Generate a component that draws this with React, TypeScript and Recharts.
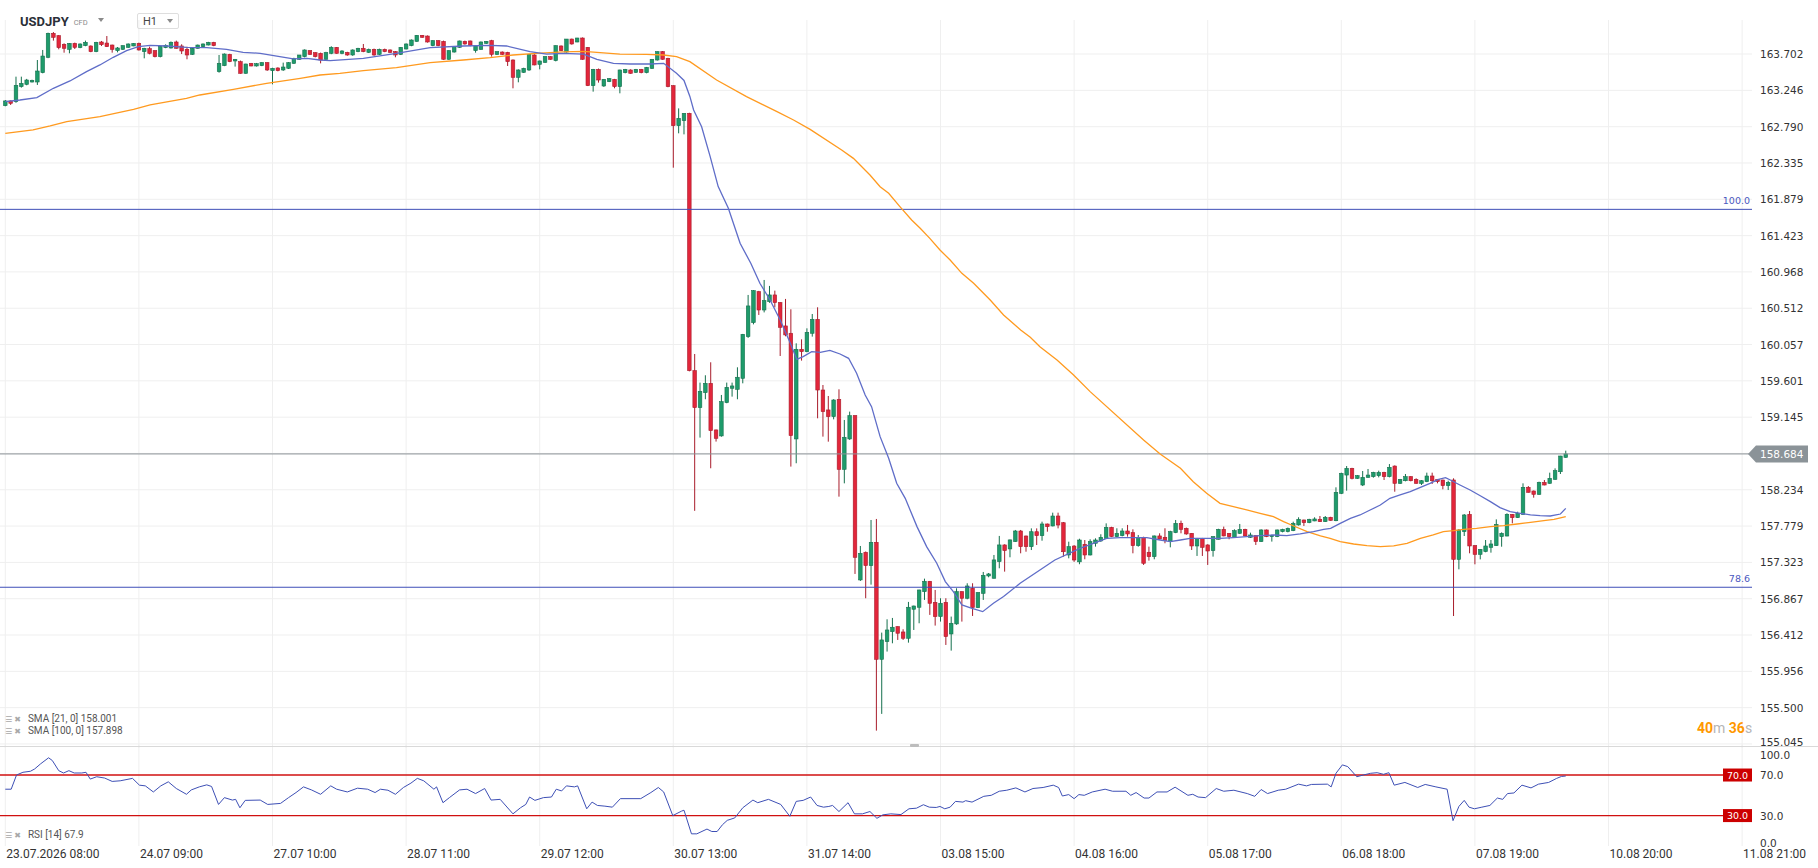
import React from 'react';
import { ComposedChart, Bar, Line, XAxis, YAxis, ReferenceLine, CartesianGrid } from 'recharts';

// ---- hourly candles (index 0 = 23.07.2026 08:00) ----
const opens = [
163.054,163.113,163.104,163.293,163.322,163.351,163.351,163.468,163.661,163.962,
163.932,163.824,163.761,163.836,163.782,163.807,163.803,163.732,163.853,163.840,
163.815,163.744,163.761,163.786,163.803,163.836,163.732,163.769,163.744,163.669,
163.782,163.778,163.853,163.803,163.761,163.698,163.774,163.794,163.815,163.849,
163.481,163.556,163.698,163.615,163.606,163.460,163.585,163.552,163.556,163.594,
163.493,163.527,163.502,163.523,163.585,163.636,163.669,163.744,163.719,163.711,
163.636,163.711,163.786,163.711,163.723,163.690,163.732,163.774,163.723,163.761,
163.698,163.761,163.753,163.732,163.698,163.765,163.807,163.861,163.937,163.928,
163.807,163.870,163.861,163.636,163.727,163.786,163.861,163.866,163.744,163.761,
163.836,163.870,163.698,163.727,163.723,163.627,163.410,163.472,163.502,163.690,
163.573,163.598,163.669,163.619,163.803,163.727,163.890,163.853,163.903,163.786,
163.305,163.510,163.301,163.355,163.385,163.293,163.468,163.502,163.472,163.510,
163.468,163.523,163.627,163.732,163.648,163.305,162.803,162.866,162.958,159.729,
159.265,159.453,159.570,158.985,158.910,159.328,159.508,159.495,159.633,160.156,
160.332,160.720,160.490,160.595,160.679,160.583,160.290,160.198,158.872,159.997,
159.967,160.198,160.373,159.486,159.236,159.152,159.369,158.491,158.872,159.164,
157.103,157.450,157.283,157.575,156.107,156.329,156.454,156.517,156.450,156.371,
156.735,156.760,156.956,157.086,156.822,156.643,156.822,156.425,156.551,156.956,
156.873,156.998,156.756,156.935,157.153,157.124,157.333,157.542,157.492,157.584,
157.717,157.654,157.520,157.708,157.658,157.805,157.780,157.905,157.821,157.416,
157.528,157.330,157.550,157.416,157.563,157.592,157.625,157.763,157.646,157.659,
157.717,157.696,157.533,157.638,157.450,157.395,157.655,157.638,157.584,157.696,
157.813,157.751,157.688,157.529,157.625,157.542,157.471,157.613,157.738,157.688,
157.638,157.688,157.738,157.638,157.659,157.584,157.730,157.646,157.646,157.709,
157.709,157.721,157.793,157.855,157.822,157.843,157.864,157.834,157.889,157.846,
158.189,158.419,158.503,158.378,158.294,158.390,158.399,158.411,158.453,158.399,
158.532,158.315,158.348,158.399,158.365,158.315,158.336,158.407,158.365,158.357,
158.286,158.357,157.361,157.709,157.926,157.533,157.424,157.458,157.512,157.533,
157.646,157.654,157.926,157.884,157.926,158.265,158.219,158.177,158.327,158.315,
158.365,158.461,158.641,
];
const highs = [
163.125,163.120,163.418,163.418,163.390,163.380,163.627,163.753,163.970,163.978,
163.940,163.836,163.840,163.845,163.835,163.870,163.810,163.855,163.866,163.928,
163.820,163.790,163.810,163.835,163.840,163.845,163.780,163.794,163.750,163.805,
163.824,163.860,163.870,163.824,163.794,163.780,163.820,163.835,163.855,163.855,
163.690,163.710,163.705,163.640,163.620,163.580,163.590,163.590,163.600,163.600,
163.530,163.535,163.594,163.600,163.655,163.690,163.760,163.750,163.725,163.720,
163.730,163.800,163.790,163.750,163.730,163.760,163.780,163.828,163.770,163.770,
163.770,163.770,163.760,163.740,163.790,163.835,163.885,163.940,163.940,163.935,
163.875,163.875,163.870,163.750,163.800,163.870,163.870,163.870,163.810,163.860,
163.865,163.880,163.735,163.735,163.730,163.635,163.510,163.530,163.700,163.700,
163.620,163.675,163.675,163.810,163.810,163.890,163.895,163.905,163.910,163.790,
163.515,163.520,163.385,163.400,163.390,163.505,163.515,163.510,163.515,163.515,
163.540,163.640,163.735,163.740,163.655,163.310,163.020,162.960,162.965,159.938,
159.579,159.671,159.834,158.990,159.424,159.579,159.579,159.771,160.190,160.679,
160.740,160.730,160.867,160.792,160.733,160.590,160.629,160.499,160.072,160.122,
160.260,160.440,160.524,159.549,159.411,159.370,159.495,159.110,159.215,159.170,
157.529,157.460,157.855,157.868,156.442,156.609,156.626,156.520,156.484,156.827,
156.780,156.980,157.119,157.090,156.977,156.873,156.873,156.643,156.998,156.960,
157.061,157.061,156.950,157.203,157.190,157.416,157.655,157.550,157.610,157.730,
157.730,157.660,157.750,157.750,157.834,157.810,157.947,157.947,157.830,157.583,
157.540,157.620,157.604,157.613,157.625,157.676,157.813,157.770,157.751,157.751,
157.793,157.738,157.667,157.645,157.521,157.660,157.688,157.751,157.720,157.855,
157.847,157.760,157.690,157.630,157.630,157.550,157.650,157.745,157.772,157.690,
157.738,157.805,157.745,157.696,157.665,157.738,157.735,157.670,157.735,157.745,
157.760,157.834,157.889,157.860,157.870,157.889,157.905,157.905,157.895,158.265,
158.449,158.532,158.510,158.420,158.470,158.495,158.460,158.474,158.460,158.557,
158.540,158.370,158.432,158.405,158.378,158.355,158.449,158.449,158.370,158.360,
158.348,158.378,157.742,157.930,157.968,157.540,157.490,157.604,157.604,157.863,
157.700,157.939,157.930,157.959,158.315,158.281,158.225,158.336,158.357,158.449,
158.503,158.660,158.725,
];
const lows = [
163.046,163.063,163.090,163.280,163.310,163.345,163.314,163.460,163.650,163.870,
163.761,163.719,163.711,163.765,163.775,163.800,163.725,163.725,163.803,163.790,
163.719,163.723,163.755,163.780,163.800,163.745,163.648,163.698,163.660,163.660,
163.775,163.770,163.770,163.702,163.636,163.690,163.770,163.790,163.810,163.800,
163.468,163.550,163.600,163.544,163.455,163.455,163.548,163.545,163.550,163.490,
163.322,163.485,163.490,163.515,163.580,163.630,163.660,163.690,163.660,163.585,
163.630,163.700,163.705,163.700,163.680,163.680,163.725,163.725,163.715,163.680,
163.690,163.725,163.715,163.661,163.690,163.760,163.800,163.855,163.905,163.845,
163.800,163.800,163.630,163.630,163.720,163.780,163.820,163.800,163.719,163.755,
163.830,163.669,163.690,163.690,163.552,163.272,163.347,163.465,163.490,163.560,
163.510,163.590,163.630,163.610,163.740,163.720,163.820,163.850,163.630,163.300,
163.230,163.343,163.290,163.350,163.272,163.209,163.460,163.455,163.465,163.460,
163.460,163.515,163.620,163.630,163.285,162.276,162.707,162.694,159.720,157.970,
158.889,159.370,158.504,158.839,158.900,159.320,159.403,159.370,159.570,160.140,
160.310,160.428,160.460,160.580,160.524,159.913,160.160,158.525,158.567,159.855,
159.960,160.156,159.131,158.901,158.838,159.118,158.148,158.315,158.860,157.178,
157.090,156.873,157.044,155.212,155.422,156.204,156.308,156.350,156.350,156.316,
156.475,156.559,156.852,156.664,156.530,156.580,156.287,156.216,156.540,156.580,
156.860,156.651,156.750,156.852,157.136,157.120,157.249,157.207,157.387,157.580,
157.437,157.457,157.478,157.541,157.595,157.708,157.775,157.750,157.395,157.374,
157.330,157.300,157.362,157.410,157.521,157.580,157.620,157.640,157.640,157.650,
157.646,157.437,157.520,157.291,157.345,157.362,157.610,157.563,157.512,157.690,
157.688,157.670,157.479,157.404,157.404,157.291,157.395,157.610,157.650,157.613,
157.630,157.680,157.650,157.630,157.542,157.580,157.640,157.584,157.640,157.700,
157.700,157.715,157.785,157.780,157.815,157.840,157.830,157.830,157.846,157.840,
158.180,158.223,158.365,158.370,158.281,158.385,158.386,158.390,158.357,158.390,
158.210,158.307,158.340,158.340,158.310,158.294,158.330,158.307,158.315,158.240,
158.231,156.650,157.236,157.654,157.437,157.299,157.361,157.450,157.445,157.530,
157.520,157.650,157.813,157.880,157.920,158.200,158.135,158.170,158.290,158.310,
158.360,158.432,158.635,
];
const closes = [
163.113,163.084,163.309,163.334,163.376,163.372,163.489,163.677,163.962,163.912,
163.782,163.774,163.836,163.786,163.828,163.849,163.732,163.849,163.820,163.794,
163.761,163.778,163.807,163.828,163.836,163.753,163.774,163.711,163.669,163.799,
163.811,163.849,163.774,163.740,163.690,163.774,163.815,163.828,163.849,163.807,
163.585,163.702,163.606,163.636,163.460,163.577,163.552,163.581,163.594,163.502,
163.523,163.493,163.539,163.594,163.648,163.690,163.753,163.698,163.669,163.627,
163.719,163.786,163.711,163.740,163.690,163.753,163.774,163.732,163.761,163.690,
163.761,163.732,163.723,163.690,163.786,163.828,163.878,163.937,163.912,163.853,
163.870,163.807,163.636,163.744,163.794,163.866,163.828,163.807,163.803,163.853,
163.861,163.698,163.732,163.698,163.606,163.410,163.502,163.523,163.698,163.565,
163.615,163.669,163.636,163.807,163.744,163.890,163.828,163.903,163.636,163.305,
163.510,163.376,163.385,163.393,163.293,163.502,163.510,163.460,163.510,163.468,
163.535,163.636,163.732,163.636,163.293,162.803,162.895,162.958,159.729,159.265,
159.470,159.570,158.976,158.880,159.340,159.520,159.537,159.646,160.185,160.541,
160.733,160.490,160.608,160.679,160.583,160.273,160.177,158.914,159.997,159.967,
160.210,160.373,159.486,159.215,159.152,159.361,158.491,158.893,159.164,157.387,
157.437,157.283,157.575,156.107,156.350,156.475,156.509,156.434,156.371,156.760,
156.776,156.977,157.086,156.810,156.643,156.810,156.392,156.559,156.956,156.873,
157.027,156.756,156.944,157.161,157.178,157.354,157.542,157.471,157.605,157.717,
157.520,157.520,157.708,157.658,157.805,157.771,157.905,157.792,157.457,157.520,
157.353,157.604,157.416,157.584,157.604,157.638,157.763,157.646,157.688,157.717,
157.680,157.533,157.638,157.312,157.395,157.655,157.617,157.596,157.709,157.813,
157.738,157.680,157.529,157.625,157.512,157.466,157.646,157.738,157.655,157.646,
157.721,157.738,157.655,157.667,157.584,157.730,157.646,157.663,157.730,157.738,
157.751,157.813,157.864,157.822,157.864,157.868,157.834,157.889,157.850,158.202,
158.440,158.503,158.378,158.411,158.390,158.419,158.453,158.453,158.399,158.516,
158.315,158.365,158.399,158.348,158.315,158.348,158.407,158.348,158.336,158.286,
158.327,157.361,157.729,157.918,157.529,157.424,157.487,157.529,157.554,157.800,
157.688,157.926,157.884,157.939,158.265,158.202,158.177,158.327,158.294,158.378,
158.474,158.658,158.684,
];

// ---- moving averages: [candle index, value] ----
const sma21Points = [
[0,163.104],[2.75,163.125],[5.9,163.155],[9,163.272],[12.1,163.364],[15.2,163.481],[17.7,163.565],[20.2,163.661],
[22.7,163.744],[24.9,163.794],[27.1,163.811],[30.2,163.803],[33.9,163.786],[37.7,163.782],[41.4,163.761],[44.5,163.723],
[47.7,163.711],[50.8,163.677],[53.9,163.640],[56.4,163.648],[58.9,163.627],[60.8,163.619],[67,163.648],[73.2,163.711],
[79.5,163.782],[85.7,163.803],[90.7,163.811],[93.8,163.803],[98.2,163.732],[101.3,163.702],[104.4,163.711],[108.2,163.702],
[110.7,163.636],[113.8,163.585],[116.9,163.577],[120.6,163.577],[123.2,163.585],[125.6,163.46],[127,163.37],[128.1,163.17],
[128.8,163.0],[130.3,162.79],[131.9,162.414],[133.4,162.038],[135.3,161.766],[137.5,161.327],[139.5,161.076],[141.2,160.825],
[143.1,160.616],[145,160.365],[146.9,160.072],[148.1,159.871],[149.3,159.905],[150.9,159.967],[152.5,159.959],[154.3,159.984],
[156.2,159.938],[157.8,159.884],[159.3,159.696],[160.9,159.424],[162.1,159.277],[163.7,158.901],[165.3,158.629],[166.8,158.316],
[168.4,158.127],[170.6,157.772],[172.4,157.521],[174.3,157.312],[175.9,157.082],[177.4,156.956],[179,156.789],[180.9,156.747],
[182.9,156.705],[184.9,156.81],[186.8,156.894],[189.9,157.061],[196.4,157.353],[201.1,157.5],[203.6,157.563],[206.1,157.625],
[208.6,157.634],[211.1,157.634],[213.6,157.634],[216.1,157.604],[218,157.584],[219.9,157.604],[221.7,157.625],[224.2,157.625],
[227.3,157.625],[229.8,157.634],[232.3,157.646],[234.8,157.659],[237.3,157.667],[239.8,157.659],[242.3,157.68],[244.8,157.709],
[246.7,157.738],[248,157.751],[249.8,157.813],[251.7,157.876],[253.5,157.918],[255.4,157.98],[257.3,158.043],[259.1,158.127],
[261,158.169],[262.9,158.21],[264.8,158.265],[266.6,158.315],[268.2,158.365],[269.5,158.386],[270.4,158.357],[272.2,158.294],
[274.1,158.231],[276,158.16],[277.9,158.085],[279.7,158.01],[281.6,157.959],[283.5,157.939],[285.4,157.918],[287.2,157.909],
[289.1,157.905],[291,157.93],[292,158.001],
];
const sma100Points = [
[0,162.707],[5.2,162.749],[8.4,162.799],[11.5,162.854],[17.7,162.916],[24,163.008],[27.1,163.063],[33.9,163.146],
[36.4,163.188],[42.7,163.259],[48.9,163.334],[55.2,163.397],[58.9,163.439],[62.6,163.46],[67,163.493],[73.2,163.531],
[79.5,163.594],[85.7,163.627],[90.7,163.656],[95,163.69],[99.4,163.711],[104.4,163.728],[108.2,163.736],[110.7,163.723],
[115,163.702],[120,163.698],[123.2,163.69],[125.6,163.669],[128.1,163.606],[133.1,163.376],[138.7,163.167],[144.4,162.979],
[147.5,162.874],[150.6,162.757],[156.5,162.498],[158.7,162.393],[161.8,162.184],[163.7,162.037],[165.3,161.954],[167.4,161.787],
[169.6,161.619],[171.2,161.515],[173,161.389],[174.9,161.243],[176.8,161.117],[179,160.95],[181.2,160.825],[184.3,160.616],
[186.8,160.427],[190,160.239],[191.8,160.147],[193.6,160.03],[196.8,159.863],[199.9,159.675],[203,159.466],[213,158.859],
[216.1,158.683],[219.9,158.504],[222.3,158.336],[224.8,158.19],[227.3,158.064],[229.8,158.023],[232.3,157.981],[234.8,157.939],
[237.3,157.897],[239.2,157.834],[241.1,157.78],[243.6,157.709],[246.1,157.655],[247.9,157.625],[249.8,157.583],[252.3,157.554],
[254.8,157.533],[257.3,157.52],[259.8,157.529],[262.3,157.562],[264.8,157.625],[267.2,157.667],[269.1,157.709],[271,157.721],
[272.9,157.738],[275.3,157.75],[277.9,157.771],[280.4,157.784],[282.9,157.805],[285.4,157.826],[287.9,157.846],[289.8,157.863],
[292,157.898],
];

// ---- RSI(14): [candle index, value] ----
const rsiPoints = [
[0,56],[1.1,56],[2.1,70],[3.3,72.7],[4.7,73.7],[5.5,76],[6.6,81],[8.1,87],[8.8,84.3],[10,74.3],[10.9,72],[11.9,74.3],
[12.9,72],[14.3,72],[15.1,72.7],[15.9,66],[17.1,68.3],[18.6,67],[20,63.7],[21.5,64.3],[23.8,66.7],[25.1,60],[26.2,59.3],
[27.7,53.3],[29.1,59.3],[30.5,63.3],[32,56.7],[33.9,51],[34.8,55.3],[36.3,58.3],[37.7,60.3],[38.6,58.7],[39.9,41],[41,47.7],
[42.5,45.3],[43.1,46],[43.9,37.7],[44.9,45],[47.7,45.3],[49.1,41],[51.5,42],[53,47.7],[54.4,52.7],[55.8,58.3],[57.3,55.3],
[59,51],[60.9,59.3],[62,56],[64,53.3],[65.9,57],[67.8,56],[69.2,52.7],[70.2,56],[71.6,55],[73,51],[74.5,57.7],[75.9,62],
[77.1,66.7],[78.3,64.3],[80.2,56],[80.7,58.3],[81.9,42.7],[83.1,47.7],[85,55.3],[86.4,56],[88,51.7],[89.7,56.7],[90.9,45.3],
[92.6,46],[95,31.7],[96.4,37.7],[97.4,41],[98.1,48.3],[99.1,45],[100.7,47.7],[102.2,48.3],[103.1,56],[104.1,54.3],[105,59.3],
[106.5,58.3],[107.1,59.3],[108.8,36.7],[109.8,43.3],[110.8,40],[112.2,39.3],[113.6,38.3],[115.1,46.7],[118.9,46.7],[120.8,52.7],
[122.2,57.7],[123.2,53.3],[124.9,30],[126.5,34.3],[127,35.3],[128.4,12],[129.4,12],[131.3,16.7],[132.2,14.3],[133.2,14.3],
[134.2,21],[135.1,25.3],[136.5,27.7],[138,37.7],[139.9,45.3],[140.8,42.7],[142.8,46],[145.1,41],[146.8,29.3],[148,44],
[149.3,45],[150.7,48.3],[151.9,40],[153.1,38.3],[154.1,39],[154.8,40],[156,34],[157.7,42.7],[158.9,31.7],[160.4,31.7],
[161.8,34],[163.1,27.3],[164.2,30.7],[165.7,31.7],[167.6,31],[169.1,36.7],[170.5,37.3],[171.8,40.7],[172.9,38.3],[174.2,38],
[174.9,39],[175.8,36.7],[176.8,38.3],[177.8,44],[179.2,43.3],[179.7,44.7],[180.9,43.3],[183.1,49],[184.5,50],[186,54],
[187.4,55],[189.1,57.3],[190.8,53.3],[192.3,56.7],[194.2,57.7],[196.1,60],[197.1,57.7],[197.8,49.3],[199,50.7],[200,46.7],
[200.9,50.7],[201.9,50],[203.4,53.3],[205.8,56],[207.2,54],[209.7,54],[210.6,50],[211.6,52.7],[213.1,47.3],[214,47.3],
[215.5,53.3],[217.4,53.3],[218.9,58],[221.3,50],[222.2,51],[223.2,48.3],[224.6,47.7],[226.6,56.7],[228,54],[229.9,55],
[232.4,51.7],[233.8,49],[235,55.7],[236.2,51.7],[238.2,55],[239.6,56],[242,61],[243.5,59.3],[244.4,60.7],[247.4,61],
[248.1,58.3],[249,71.7],[250.2,80],[251.2,78.3],[252.9,68.3],[254.1,70],[255.5,71.7],[256.7,72.3],[257.9,70.7],[258.9,72.3],
[259.9,60],[261.9,62.7],[264.3,57.7],[265.7,60.7],[267.7,58.3],[269.8,56],[270.9,25],[272,39],[273,45],[273.9,38.3],
[274.9,36.7],[276.3,38.3],[277.8,40],[279.2,47.3],[280.2,46],[281.1,51.7],[282.3,52.3],[283.8,60],[285.5,57.3],[286.9,61],
[288.8,62.7],[290.3,66.7],[291.2,68.6],[292,69],
];

// ---- axes ----
const timeLabels = ['23.07.2026 08:00','24.07 09:00','27.07 10:00','28.07 11:00','29.07 12:00','30.07 13:00','31.07 14:00',
  '03.08 15:00','04.08 16:00','05.08 17:00','06.08 18:00','07.08 19:00','10.08 20:00','11.08 21:00'];
const candlesPerLabel = 25;
const priceTicks = [155.045,155.500,155.956,156.412,156.867,157.323,157.779,158.234,159.145,159.601,160.057,160.512,
  160.968,161.423,161.879,162.335,162.790,163.246,163.702];
const priceGrid = [...priceTicks, 158.690];
const rsiTicks = [0, 30, 70, 100];
const fibLevels = [{ label: '100.0', value: 161.753 }, { label: '78.6', value: 157.011 }];
const lastPrice = 158.684;
const sma21Last = 158.001;
const sma100Last = 157.898;
const rsiLast = 67.9;

const W = 1818;
const X_DOMAIN: [number, number] = [-0.9918, 326.85];
const Y_DOMAIN: [number, number] = [154.994, 164.129];
const AXIS_FONT = '"DejaVu Sans", Verdana, sans-serif';
const UI_FONT = 'Roboto, "Noto Sans", Arial, sans-serif';

const candles = opens.map((o, i) => ({ i, o, h: highs[i], l: lows[i], c: closes[i], range: [lows[i], highs[i]] }));
const sma21Data = sma21Points.map(([i, v]) => ({ i, v }));
const sma100Data = sma100Points.map(([i, v]) => ({ i, v }));
const rsiData = rsiPoints.map(([i, v]) => ({ i, v }));
const timeTicks = timeLabels.map((_, k) => k * candlesPerLabel);

const CandleShape = (props: any) => {
  const { x, y, width, height, payload } = props;
  if (!payload || x == null || y == null) return null;
  const { o, h, l, c } = payload;
  const top = Math.min(y, y + height);
  const hh = Math.abs(height);
  const cx = x + width / 2;
  const py = (v: number) => (h === l ? top : top + ((h - v) / (h - l)) * hh);
  const up = c >= o;
  const bTop = py(Math.max(o, c));
  const bBot = py(Math.min(o, c));
  const bw = 3.6;
  const fill = up ? '#1e9b6b' : '#e2263b';
  const stroke = up ? '#15704d' : '#a81c2b';
  return (
    <g>
      <line x1={cx} x2={cx} y1={top} y2={top + hh} stroke={stroke} strokeWidth={1} />
      <rect x={cx - bw / 2} y={bTop} width={bw} height={Math.max(1, bBot - bTop)} fill={fill} stroke={stroke} strokeWidth={0.6} />
    </g>
  );
};

const PriceTick = (props: any) => {
  const { x, y, payload } = props;
  const v = Number(payload.value);
  const shift = v < 155.2 ? -1.5 : 0;
  return (
    <text x={x + 8} y={y + shift} dy={4} fontSize={10.5} fill="#333" fontFamily={AXIS_FONT}>
      {v.toFixed(3)}
    </text>
  );
};

const RsiTick = (props: any) => {
  const { x, y, payload } = props;
  const v = Number(payload.value);
  const shift = v === 100 ? 10 : v === 0 ? -3 : 0;
  return (
    <text x={x + 8} y={y + shift} dy={4} fontSize={10.5} fill="#333" fontFamily={AXIS_FONT}>
      {v.toFixed(1)}
    </text>
  );
};

const TimeTick = (props: any) => {
  const { x, y, payload } = props;
  const k = Math.round(Number(payload.value) / candlesPerLabel);
  return (
    <text x={x + 1} y={y + 11.5} fontSize={12} fill="#333" fontFamily={UI_FONT}>
      {timeLabels[k]}
    </text>
  );
};

const fibLabel = (text: string) => (props: any) => {
  const vb = props.viewBox || {};
  return (
    <text x={vb.x + vb.width - 2} y={vb.y - 5} textAnchor="end" fontSize={9.5} fill="#4a58c0" fontFamily={AXIS_FONT}>
      {text}
    </text>
  );
};

const priceTag = (props: any) => {
  const vb = props.viewBox || {};
  const r = vb.x + vb.width;
  const y = vb.y;
  const pts = `${r - 4},${y} ${r + 4},${y - 8.5} ${r + 56},${y - 8.5} ${r + 56},${y + 8.5} ${r + 4},${y + 8.5}`;
  return (
    <g>
      <polygon points={pts} fill="#8b9398" />
      <text x={r + 8} y={y} dy={4} fontSize={10.5} fill="#fff" fontFamily={AXIS_FONT}>
        {lastPrice.toFixed(3)}
      </text>
    </g>
  );
};

const rsiBox = (text: string) => (props: any) => {
  const vb = props.viewBox || {};
  const r = vb.x + vb.width;
  const y = vb.y;
  return (
    <g>
      <rect x={r - 29} y={y - 6.5} width={29} height={13} fill="#cc0000" />
      <text x={r - 14.5} y={y} dy={3.8} textAnchor="middle" fontSize={9.5} fill="#fff" fontFamily={AXIS_FONT}>
        {text}
      </text>
    </g>
  );
};

const Icons = () => (
  <span style={{ fontFamily: AXIS_FONT, fontSize: 8, color: '#a8a8a8', marginRight: 5, letterSpacing: 2 }}>☰✖</span>
);

export default function App() {
  return (
    <div style={{ position: 'relative', width: W, height: 868, background: '#fff', overflow: 'hidden' }}>
      <style>{'body{margin:0;background:#fff;}'}</style>

      {/* main price pane (plot area spans y 20..748) */}
      <div style={{ position: 'absolute', left: 0, top: 0 }}>
        <ComposedChart width={W} height={760} data={candles} margin={{ top: 20, right: 0, bottom: 12, left: 0 }}>
          <CartesianGrid stroke="#efefef" horizontalValues={priceGrid} verticalValues={timeTicks} />
          <XAxis dataKey="i" type="number" domain={X_DOMAIN} allowDataOverflow hide />
          <YAxis
            orientation="right"
            type="number"
            width={66}
            domain={Y_DOMAIN}
            allowDataOverflow
            ticks={priceTicks}
            interval={0}
            axisLine={false}
            tickLine={false}
            tickSize={0}
            tickMargin={0}
            tick={<PriceTick />}
          />
          {fibLevels.map((f) => (
            <ReferenceLine key={f.label} y={f.value} stroke="#3f4fb8" strokeWidth={1} label={fibLabel(f.label)} />
          ))}
          <ReferenceLine y={lastPrice} stroke="#8b9398" strokeWidth={1} label={priceTag} />
          <Bar dataKey="range" shape={CandleShape} isAnimationActive={false} />
          <Line data={sma100Data} dataKey="v" type="linear" stroke="#ff9a1f" strokeWidth={1.3} dot={false} activeDot={false} isAnimationActive={false} />
          <Line data={sma21Data} dataKey="v" type="linear" stroke="#5f6dc8" strokeWidth={1.3} dot={false} activeDot={false} isAnimationActive={false} />
        </ComposedChart>
      </div>

      {/* RSI pane */}
      <div style={{ position: 'absolute', left: 0, top: 740, background: 'transparent' }}>
        <ComposedChart width={W} height={128} margin={{ top: 4.6, right: 0, bottom: 0, left: 0 }}>
          <CartesianGrid stroke="#efefef" horizontal={false} verticalValues={timeTicks} />
          <XAxis
            dataKey="i"
            type="number"
            domain={X_DOMAIN}
            allowDataOverflow
            ticks={timeTicks}
            interval={0}
            height={22}
            axisLine={false}
            tickLine={false}
            tickSize={0}
            tickMargin={0}
            tick={<TimeTick />}
          />
          <YAxis
            orientation="right"
            type="number"
            width={66}
            domain={[0, 100]}
            allowDataOverflow
            ticks={rsiTicks}
            interval={0}
            axisLine={false}
            tickLine={false}
            tickSize={0}
            tickMargin={0}
            tick={<RsiTick />}
          />
          <ReferenceLine y={70} stroke="#d01010" strokeWidth={1.4} label={rsiBox('70.0')} />
          <ReferenceLine y={30} stroke="#d01010" strokeWidth={1.4} label={rsiBox('30.0')} />
          <Line data={rsiData} dataKey="v" type="linear" stroke="#3d4fb5" strokeWidth={1} dot={false} activeDot={false} isAnimationActive={false} />
        </ComposedChart>
      </div>

      {/* pane separator */}
      <div style={{ position: 'absolute', left: 0, top: 746, width: W, height: 1, background: '#d9d9d9' }} />
      <div style={{ position: 'absolute', left: 910, top: 744, width: 9, height: 3, background: '#bdbdbd', borderRadius: 1 }} />

      {/* header */}
      <div style={{ position: 'absolute', left: 20, top: 14, fontFamily: UI_FONT, display: 'flex', alignItems: 'center' }}>
        <span style={{ fontWeight: 700, fontSize: 13, color: '#2b2f38' }}>USDJPY</span>
        <span style={{ fontSize: 7.5, color: '#8a8a8a', marginLeft: 5, marginTop: 2 }}>CFD</span>
        <span style={{ marginLeft: 10, width: 0, height: 0, borderLeft: '3.5px solid transparent', borderRight: '3.5px solid transparent', borderTop: '4px solid #8a8a8a', marginTop: -4 }} />
      </div>
      <div style={{ position: 'absolute', left: 137, top: 13, width: 42, height: 16, border: '1px solid #dedede', borderRadius: 2, fontFamily: UI_FONT, fontSize: 11, color: '#444', boxSizing: 'border-box' }}>
        <span style={{ position: 'absolute', left: 5, top: 1 }}>H1</span>
        <span style={{ position: 'absolute', left: 29, top: 5, width: 0, height: 0, borderLeft: '3.5px solid transparent', borderRight: '3.5px solid transparent', borderTop: '4px solid #8a8a8a' }} />
      </div>

      {/* indicator legends */}
      <div style={{ position: 'absolute', left: 5, top: 713, fontFamily: UI_FONT, fontSize: 10, color: '#555', lineHeight: '11px' }}>
        <div><Icons />SMA [21, 0] {sma21Last.toFixed(3)}</div>
        <div><Icons />SMA [100, 0] {sma100Last.toFixed(3)}</div>
      </div>
      <div style={{ position: 'absolute', left: 5, top: 829, fontFamily: UI_FONT, fontSize: 10, color: '#555', lineHeight: '11px' }}>
        <Icons />RSI [14] {rsiLast.toFixed(1)}
      </div>

      {/* candle countdown */}
      <div style={{ position: 'absolute', left: 1697, top: 720, fontFamily: UI_FONT, fontSize: 14, fontWeight: 700, color: '#ff9800' }}>
        40<span style={{ color: '#b5b5b5', fontWeight: 400 }}>m</span> 36<span style={{ color: '#b5b5b5', fontWeight: 400 }}>s</span>
      </div>
    </div>
  );
}
